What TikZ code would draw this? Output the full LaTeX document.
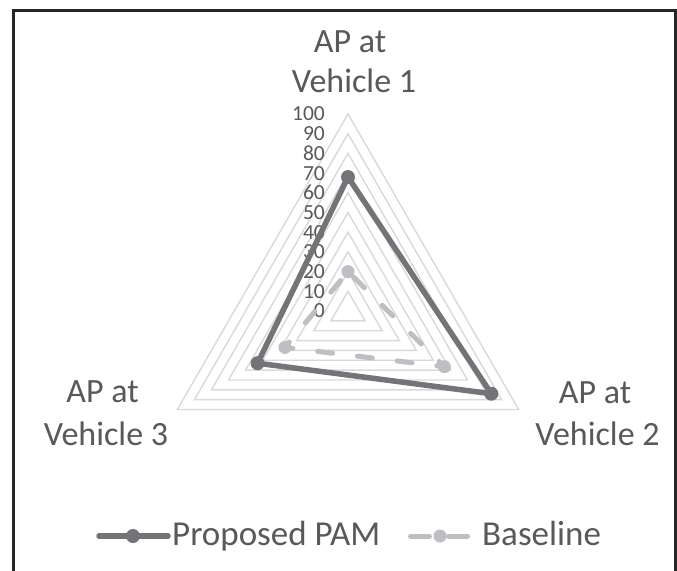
\documentclass[tikz,border=0pt]{standalone}
\usepackage{fontspec}
\setmainfont{Carlito}
\definecolor{lbl}{HTML}{595959}
\definecolor{gridc}{HTML}{D9D9D9}
\definecolor{pamc}{HTML}{737378}
\definecolor{basec}{HTML}{BFBFC3}
\definecolor{framec}{HTML}{262626}
\begin{document}
\begin{tikzpicture}[x=1pt,y=-1pt,
  axlbl/.style={font=\fontsize{34}{40}\selectfont, text=lbl, inner sep=0pt, anchor=base},
  leglbl/.style={font=\fontsize{35}{40}\selectfont, text=lbl, inner sep=0pt, anchor=base west},
  ticklbl/.style={font=\fontsize{21.5}{24}\selectfont, text=lbl, inner sep=0pt, anchor=east},
  ring/.style={draw=gridc, line width=1.4pt},
  pamline/.style={draw=pamc, line width=5.5pt, line join=round, line cap=round},
  baseser/.style={draw=basec, line width=5pt, line cap=round, dash pattern=on 15pt off 25pt},
  pammark/.style={circle, fill=pamc, minimum size=14pt, inner sep=0pt},
  basemark/.style={circle, fill=basec, minimum size=13pt, inner sep=0pt}]
\useasboundingbox (0,0) rectangle (677,570);
\clip (0,0) rectangle (677,570);
\fill[white] (0,0) rectangle (677,570);
% frame
\draw[line width=3pt, draw=framec] (13.7,600) -- (13.7,10.5) -- (675,10.5) -- (675,600);
\begin{scope}[shift={(348,311)}]
  \foreach \v in {10,20,...,100}
    \draw[ring] (-90:{1.97*\v}) -- (30:{1.97*\v}) -- (150:{1.97*\v}) -- cycle;
  \foreach \v in {0,10,...,100}
    \node[ticklbl] (t\v) at (-23,{-1.97*\v}) {\v};
  % data points
  \coordinate (P1) at (-90:{1.97*68});
  \coordinate (P2) at (30:{1.97*84});
  \coordinate (P3) at (150:{1.97*53});
  \coordinate (B1) at (-90:{1.97*20});
  \coordinate (B2) at (30:{1.97*56.5});
  \coordinate (B3) at (150:{1.97*37});
  \draw[pamline] (P1) -- (P2) -- (P3) -- cycle;
  \draw[baseser, dash phase=-8pt] (B1) -- (B2) -- (B3) -- cycle;
  \node[pammark] (mp1) at (P1) {};
  \node[pammark] (mp2) at (P2) {};
  \node[pammark] (mp3) at (P3) {};
  \node[basemark] (mb1) at (B1) {};
  \node[basemark] (mb2) at (B2) {};
  \node[basemark] (mb3) at (B3) {};
\end{scope}
% axis labels
\node[axlbl] (v1a) at (350,52) {AP at};
\node[axlbl] (v1b) at (354,92) {Vehicle 1};
\node[axlbl] (v2a) at (595,403) {AP at};
\node[axlbl] (v2b) at (597.5,445) {Vehicle 2};
\node[axlbl] (v3a) at (102.5,402) {AP at};
\node[axlbl] (v3b) at (106,445) {Vehicle 3};
% legend
\coordinate (lpa) at (99,536);
\coordinate (lpb) at (168,536);
\draw[pamline] (lpa) -- (lpb);
\node[pammark] (lpm) at (133,536) {};
\node[leglbl] (lpt) at (172,545) {Proposed PAM};
\coordinate (lba) at (410.5,536);
\coordinate (lbb) at (467.5,536);
\draw[baseser, dash pattern=on 19pt off 19pt] (lba) -- (lbb);
\node[basemark] (lbm) at (440,536) {};
\node[leglbl] (lbt) at (482,545) {Baseline};
\end{tikzpicture}
\end{document}
